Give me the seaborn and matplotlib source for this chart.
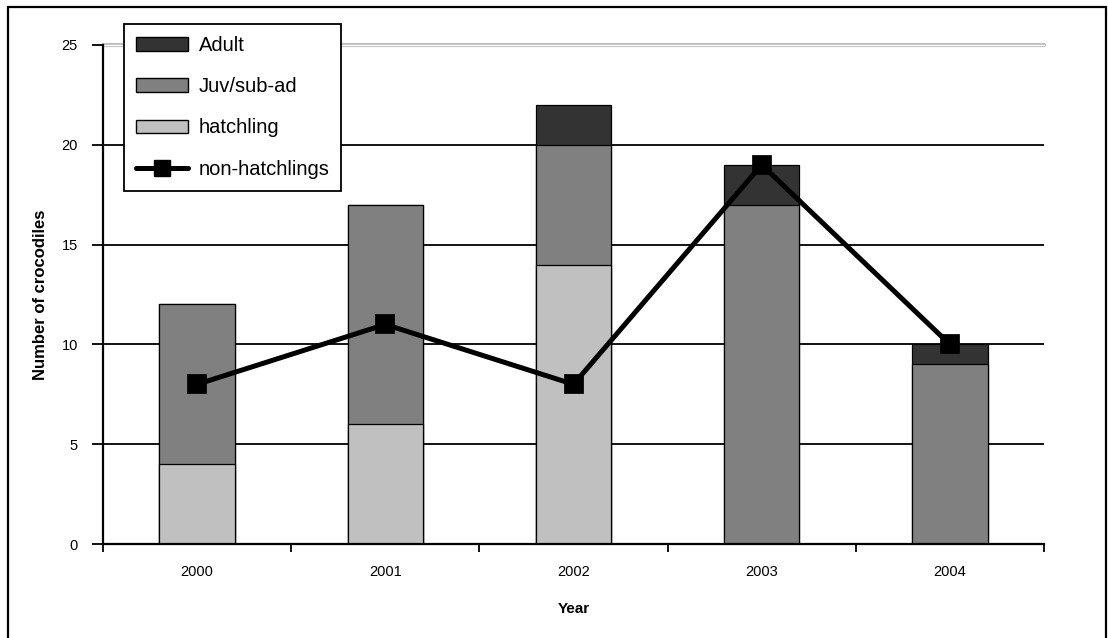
import matplotlib
matplotlib.use("Agg")
import matplotlib.pyplot as plt
from matplotlib.patches import Patch, Rectangle
from matplotlib.lines import Line2D
import seaborn as sns
import numpy as np

# Survey counts per year
years = ["2000", "2001", "2002", "2003", "2004"]
hatchling = [4, 6, 14, 0, 0]
juv_subad = [8, 11, 6, 17, 9]
adult = [0, 0, 2, 2, 1]
non_hatchlings = [8, 11, 8, 19, 10]
y_ticks = [0, 5, 10, 15, 20, 25]

sns.set_theme(style="white")
plt.rcParams["font.family"] = ["Liberation Sans", "DejaVu Sans"]
plt.rcParams["text.color"] = "black"
plt.rcParams["axes.labelcolor"] = "black"
plt.rcParams["xtick.color"] = "black"
plt.rcParams["ytick.color"] = "black"

C_ADULT = "#333333"
C_JUV = "#808080"
C_HATCH = "#c0c0c0"

fig = plt.figure(figsize=(11.08, 6.38), dpi=100)
W, H = 1108, 638
ax = fig.add_axes([103 / W, 1 - 544 / H, (1044 - 103) / W, (544 - 45) / H])

# Figure frame
fig.patches.append(Rectangle((8 / W, -0.05), (1106 - 8) / W, 1 - 7 / H + 0.05,
                             transform=fig.transFigure, fill=False,
                             edgecolor="black", linewidth=1.6, zorder=10))

# Stacked bars drawn as overlapping cumulative totals
juv_top = np.add(hatchling, juv_subad)
total = juv_top + np.array(adult)
bar_kw = dict(width=0.4, edgecolor="black", linewidth=0.9, saturation=1, ax=ax, zorder=2)
sns.barplot(x=years, y=total, color=C_ADULT, **bar_kw)
sns.barplot(x=years, y=juv_top, color=C_JUV, **bar_kw)
sns.barplot(x=years, y=hatchling, color=C_HATCH, **bar_kw)

# Non-hatchling line
sns.pointplot(x=years, y=non_hatchlings, color="black", markers="s",
              markersize=11, linewidth=3.6, errorbar=None, ax=ax)
for coll in ax.collections:
    coll.set_zorder(4)
for ln in ax.lines:
    ln.set_zorder(4)

# Horizontal gridlines
for v in y_ticks[1:-1]:
    ax.axhline(v, color="black", linewidth=1.3, zorder=0)
ax.axhline(25, color="#c0c0c0", linewidth=3.0, zorder=0, clip_on=False)
ax.axhline(25, color="white", linewidth=0.8, zorder=0.5, clip_on=False)

ax.set_xlim(-0.5, 4.5)
ax.set_ylim(0, 25)
ax.set_yticks(y_ticks)
ax.set_yticklabels([str(v) for v in y_ticks], fontsize=10.5)
ax.set_xticks(range(len(years)))
ax.set_xticklabels(years, fontsize=10.5)
ax.set_xticks(np.arange(-0.5, 5.0, 1.0), minor=True)
ax.tick_params(axis="x", which="major", length=0, pad=15)
ax.tick_params(axis="x", which="minor", length=6, width=1.3, color="black", direction="out", bottom=True)
ax.tick_params(axis="y", which="major", length=8, width=1.3, color="black", direction="out", left=True, pad=10)

for side in ["top", "right"]:
    ax.spines[side].set_visible(False)
for side in ["left", "bottom"]:
    ax.spines[side].set_color("black")
    ax.spines[side].set_linewidth(1.6)

ax.set_xlabel("Year", fontsize=11, fontweight="bold", labelpad=17)
ax.set_ylabel("Number of crocodiles", fontsize=12, fontweight="bold", labelpad=10)

handles = [
    Patch(facecolor=C_ADULT, edgecolor="black", linewidth=1.0),
    Patch(facecolor=C_JUV, edgecolor="black", linewidth=1.0),
    Patch(facecolor=C_HATCH, edgecolor="black", linewidth=1.0),
    Line2D([], [], color="black", linewidth=3.6, marker="s", markersize=11),
]
labels = ["Adult", "Juv/sub-ad", "hatchling", "non-hatchlings"]
leg = fig.legend(handles, labels, loc="upper left",
                 bbox_to_anchor=(124 / W, 1 - 24 / H), fontsize=14.5,
                 frameon=True, fancybox=False, edgecolor="black",
                 framealpha=1, handlelength=2.6, handleheight=0.65,
                 labelspacing=1.1, borderpad=0.6, handletextpad=0.5,
                 borderaxespad=0)
leg.get_frame().set_linewidth(1.3)
leg.set_zorder(20)

fig.savefig("out.png", dpi=100)
